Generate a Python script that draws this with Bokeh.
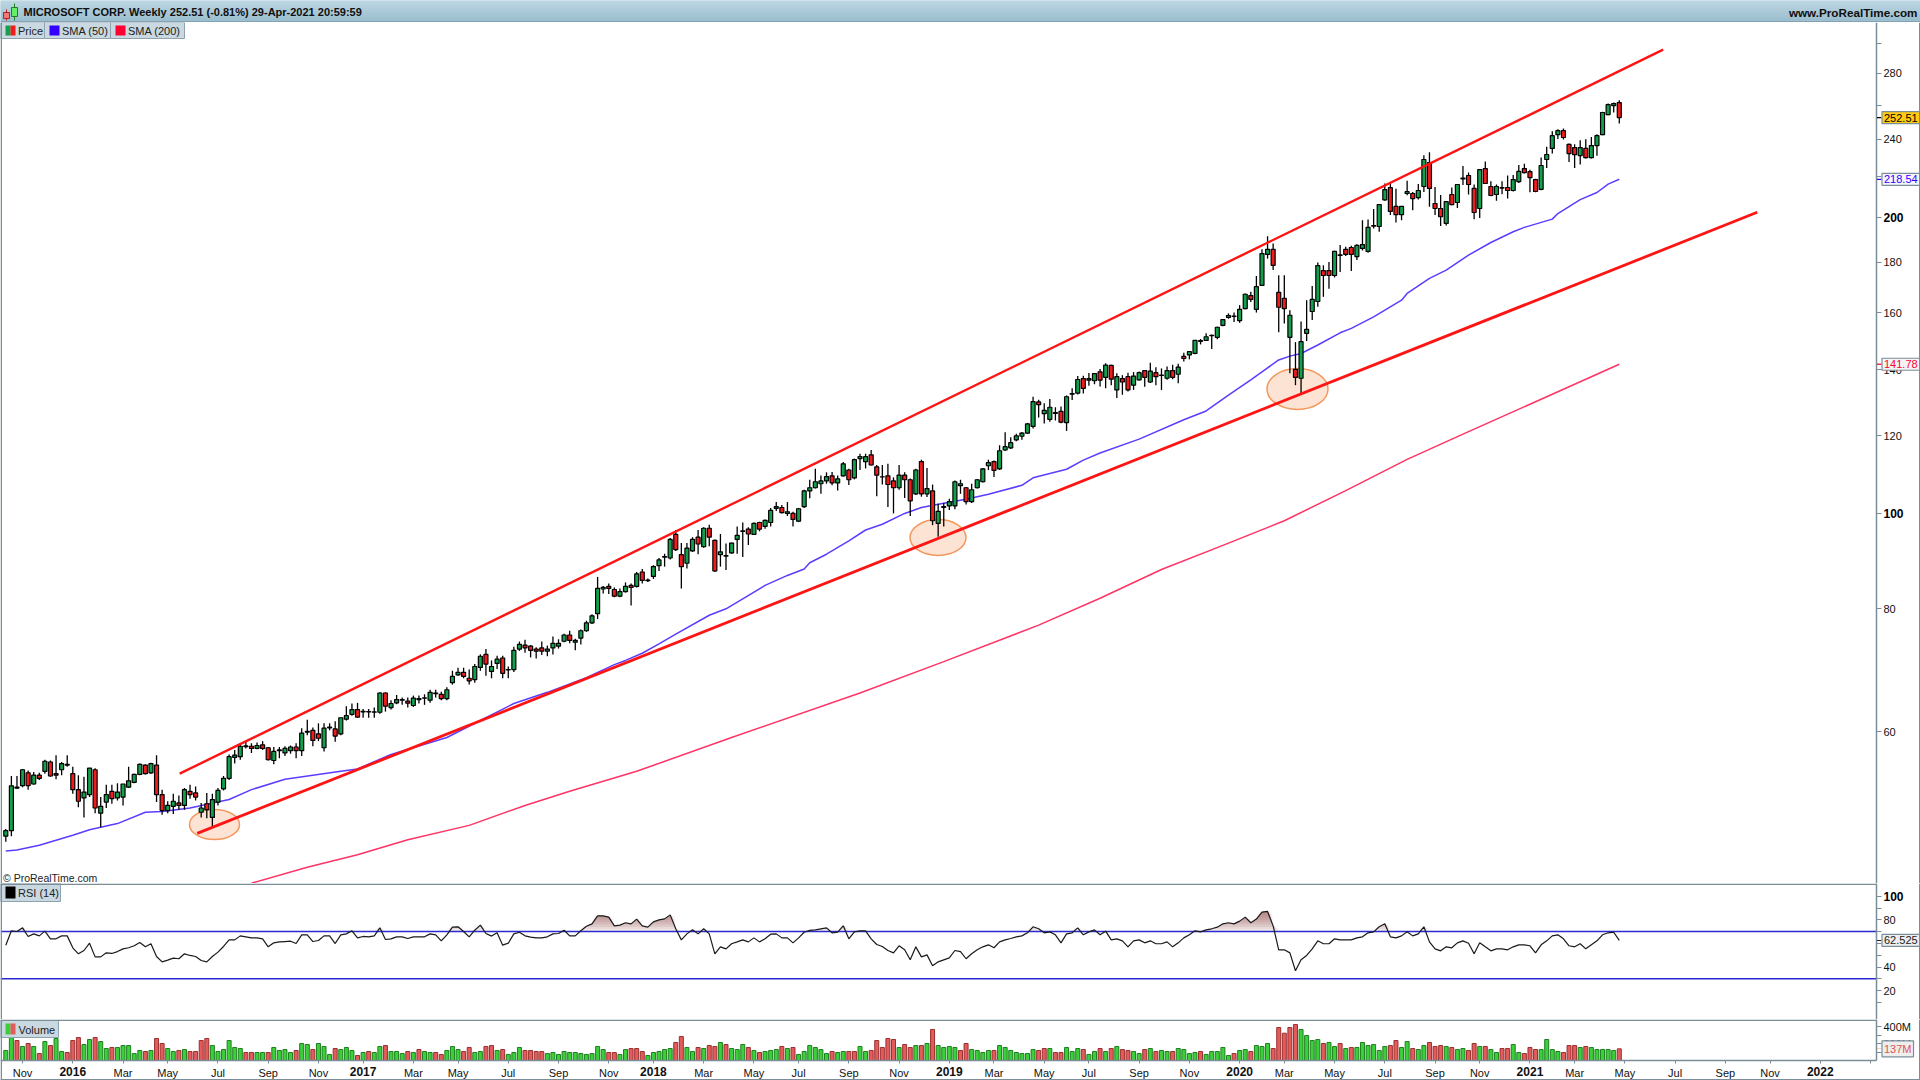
from datetime import datetime, timezone
import numpy as np
from bokeh.embed import file_html
from bokeh.resources import INLINE
from bokeh.layouts import column
from bokeh.plotting import figure
from bokeh.core.properties import value
from bokeh.models import Range1d, LinearScale, FixedTicker, Label, BoxAnnotation

# ---------- data ----------
first_week = "2015-10-12"
n_weeks = 290

opens = [47.0,47.6,52.6,52.9,54.5,53.1,54.2,54.7,55.9,54.4,
54.9,55.5,54.4,52.4,51.4,51.8,54.9,49.6,50.9,52.2,
51.4,51.5,52.7,53.3,54.3,55.5,54.5,55.5,51.8,49.9,
50.4,50.8,50.5,52.2,52.0,49.7,50.7,49.1,50.9,52.5,
53.8,56.5,56.6,57.95,58.0,57.7,58.2,57.8,56.1,57.4,
57.1,57.4,57.9,57.4,59.95,60.2,59.7,57.8,60.55,60.4,
59.7,61.8,62.5,63.2,62.85,62.85,62.8,62.8,65.7,63.5,
64.2,64.6,64.45,63.8,64.7,64.9,64.6,65.6,65.5,64.85,
67.3,68.55,68.95,68.0,67.8,69.75,71.9,69.1,70.4,71.3,
69.35,69.4,72.8,73.5,73.3,72.8,73.0,72.45,73.0,73.3,
74.15,75.25,74.0,74.7,76.0,77.4,79.1,83.8,84.3,83.7,
82.4,83.3,84.5,84.3,87.2,85.45,86.3,88.5,90.3,90.1,
95.2,90.8,89.0,91.6,94.6,92.5,96.6,93.9,90.8,90.5,
91.2,94.1,95.9,96.4,95.2,97.9,97.0,97.9,101.2,101.4,
100.0,100.0,98.2,101.6,105.4,106.2,107.2,107.9,109.2,107.4,
109.2,110.7,108.7,113.7,112.9,114.7,111.5,108.9,109.2,107.9,
106.2,109.4,108.2,104.7,112.9,104.7,105.4,97.7,101.4,101.8,
101.8,106.7,106.2,102.8,106.2,107.7,111.8,112.9,111.0,116.0,
116.6,118.8,119.8,120.7,122.6,129.8,126.3,124.6,126.4,127.0,
123.7,132.2,132.5,137.1,136.6,136.4,139.3,137.5,141.4,133.5,
137.1,137.7,135.0,136.7,139.7,136.0,139.0,138.1,137.2,139.7,
138.5,144.4,144.9,145.4,149.6,149.9,151.6,151.0,155.3,158.2,
158.6,157.0,161.5,166.5,161.2,170.5,183.3,185.5,167.7,165.4,
151.0,140.1,137.2,152.4,160.4,164.2,176.5,176.5,174.5,182.9,
185.5,186.3,182.4,185.9,184.6,195.9,195.7,208.3,214.3,205.1,
201.2,211.4,211.4,209.4,214.9,227.3,206.5,204.1,197.1,210.9,
207.0,218.7,220.5,213.9,204.1,224.1,214.9,210.9,214.1,214.4,
212.9,217.4,224.1,222.5,218.4,213.4,228.9,234.9,242.6,244.9,
237.1,235.4,231.0,234.9,229.9,236.5,242.6,254.3,259.7,261.5]

highs = [47.8,54.1,54.1,55.0,54.8,54.6,54.5,56.2,56.1,56.8,
55.9,56.8,55.3,54.2,54.0,55.1,55.1,51.5,53.0,53.0,
53.2,53.1,55.3,54.4,55.7,55.6,55.8,56.8,52.4,51.0,
51.9,51.7,52.6,53.0,52.8,50.8,52.0,51.9,52.6,54.1,
56.9,57.5,58.4,58.6,58.4,58.5,58.7,57.9,57.9,57.9,
58.0,58.1,58.4,60.5,61.7,60.6,61.2,61.2,61.2,61.5,
62.0,63.7,64.1,64.2,63.3,63.3,63.5,65.8,65.8,64.6,
65.4,65.0,65.0,65.3,65.3,65.5,66.2,66.2,65.9,66.6,
69.2,69.7,69.7,69.4,70.3,71.9,72.8,70.9,71.7,71.7,
69.9,73.2,74.1,74.4,73.5,73.1,74.1,73.4,75.0,74.5,
75.45,76.0,74.6,76.2,77.8,79.0,86.2,84.4,84.9,84.1,
83.9,85.1,84.9,87.2,87.8,85.9,88.6,90.1,91.0,94.4,
96.2,93.3,93.3,94.6,96.2,96.8,97.4,94.1,95.3,93.2,
93.4,97.0,97.9,96.8,97.9,98.1,98.6,101.3,102.7,102.0,
102.7,100.4,101.3,105.7,108.2,111.0,109.3,110.1,110.2,109.3,
112.8,111.0,113.7,115.0,115.0,116.0,112.0,112.0,112.3,108.8,
112.0,110.1,108.5,111.0,113.4,111.2,107.0,102.3,102.5,103.5,
108.0,108.2,106.4,107.2,108.4,111.2,113.4,113.2,117.3,120.9,
119.5,120.5,121.0,123.6,131.4,130.5,129.4,130.7,128.2,128.4,
131.8,134.0,137.9,138.0,138.9,138.9,140.2,142.1,141.6,138.8,
138.2,139.0,139.2,139.4,139.9,142.3,140.8,140.4,141.0,141.6,
141.9,145.6,146.0,150.0,150.4,152.4,152.0,154.8,157.4,159.7,
160.0,162.8,167.3,168.0,174.3,185.5,191.3,188.1,174.6,174.6,
160.9,149.3,156.7,164.7,170.3,179.9,178.7,180.1,184.9,187.4,
186.6,187.1,187.7,198.6,198.9,203.9,206.2,216.4,216.4,213.7,
205.1,217.8,212.1,216.1,231.2,232.8,214.7,210.7,207.4,214.4,
215.9,225.4,222.0,215.9,223.9,227.9,217.6,215.9,217.6,220.5,
220.7,226.0,226.7,223.5,218.8,230.0,235.8,244.6,245.7,246.1,
237.6,237.2,239.5,240.0,241.3,242.8,255.9,260.9,261.5,263.0]

lows = [46.4,47.0,52.5,52.7,52.4,53.0,53.6,54.4,54.0,53.7,
54.2,55.3,51.9,50.3,49.1,51.5,49.6,48.0,50.2,50.7,
51.1,50.5,52.6,53.2,54.2,54.3,54.4,50.9,49.4,49.6,
49.5,50.0,50.0,51.3,51.1,49.1,49.0,48.1,50.5,52.3,
53.6,55.7,56.2,57.7,57.1,57.6,57.5,56.1,55.6,56.4,
56.7,57.0,56.4,56.7,59.5,58.0,58.7,57.3,60.2,58.6,
59.5,61.6,62.3,62.0,62.0,62.0,62.0,62.6,62.9,63.2,
64.0,63.9,63.5,63.6,64.1,63.9,64.2,65.0,64.6,64.6,
67.0,68.4,68.0,67.0,67.3,69.2,68.4,68.0,69.5,68.0,
68.0,69.0,72.5,72.2,71.4,71.2,71.8,71.6,71.9,72.9,
74.0,73.8,72.6,73.6,75.8,77.2,78.1,82.9,82.8,82.2,
82.2,83.1,80.6,84.1,84.9,85.2,85.8,87.4,88.3,89.8,
91.6,83.9,87.9,91.4,90.9,92.3,92.6,87.2,88.3,87.6,
91.0,91.0,90.3,92.9,95.1,95.9,96.5,97.0,100.6,100.0,
99.4,97.0,98.0,101.3,103.6,106.0,104.7,107.2,106.8,105.5,
109.0,106.9,108.3,110.7,111.1,111.9,104.1,107.0,101.5,100.0,
105.7,103.7,99.4,104.4,104.0,103.9,97.3,94.7,97.0,100.8,
101.0,104.7,102.1,102.5,106.0,107.5,110.7,108.9,110.7,115.7,
116.3,118.4,118.8,120.5,122.0,125.2,123.4,123.9,124.3,123.5,
121.3,130.4,132.1,132.4,134.8,135.3,134.6,134.0,135.0,131.0,
132.0,133.0,133.5,136.5,134.5,135.7,135.0,133.5,136.7,136.9,
135.6,142.7,143.4,145.1,148.5,149.8,146.9,150.3,155.0,157.7,
156.5,156.2,161.2,164.0,160.0,170.3,181.5,176.8,152.8,156.0,
138.8,135.0,132.3,149.7,157.2,162.2,166.0,169.2,173.7,175.9,
182.6,176.3,180.9,185.0,184.0,194.8,193.3,207.8,201.0,197.5,
198.6,210.5,203.3,208.4,212.2,204.9,201.0,195.9,196.2,205.7,
204.3,215.6,210.9,199.0,199.6,216.1,210.0,207.8,211.0,208.9,
212.4,216.6,221.5,212.0,212.0,213.0,224.4,232.1,240.2,239.9,
227.6,224.4,226.3,229.4,229.4,230.9,242.2,253.9,255.5,249.0]

closes = [47.6,52.87,52.7,54.9,52.9,54.2,53.8,56.0,54.1,54.2,
55.7,55.6,52.4,51.0,52.1,55.1,50.2,50.4,51.8,51.3,
52.1,53.1,53.5,54.3,55.6,54.4,55.7,51.8,49.9,50.5,
51.0,50.5,52.4,51.8,51.5,50.2,50.0,51.2,52.3,53.8,
56.6,56.8,58.0,58.05,57.7,58.1,57.7,56.2,57.3,57.5,
57.7,57.9,57.4,59.8,60.05,58.8,59.1,60.5,60.65,59.4,
62.0,62.3,63.2,62.1,62.95,62.9,62.85,65.7,63.7,64.1,
64.7,64.7,64.15,64.9,64.85,64.95,65.8,65.7,64.85,66.2,
68.3,68.95,68.3,67.6,69.9,71.6,70.3,69.9,71.1,68.8,
69.4,72.6,73.6,73.0,72.6,72.45,72.45,72.8,73.8,73.8,
75.25,74.3,74.3,76.0,77.4,78.7,83.9,84.1,83.9,82.4,
83.3,84.3,84.1,86.8,85.5,85.55,88.3,89.7,90.4,94.1,
91.9,88.3,92.2,94.1,93.1,96.6,94.6,87.4,91.4,90.6,
93.3,95.0,96.0,95.3,97.7,96.4,98.4,100.7,101.6,100.2,
100.4,98.6,101.1,105.4,106.2,107.7,107.9,109.0,107.4,108.4,
112.3,108.2,113.4,114.2,114.2,112.0,109.4,108.95,107.0,106.2,
109.4,108.2,103.0,110.7,104.7,106.0,98.3,100.5,101.6,102.8,
107.7,107.2,102.8,105.7,108.2,111.0,112.6,110.6,115.8,116.9,
118.0,119.9,120.7,123.3,129.9,129.0,127.3,128.2,126.6,123.8,
131.4,132.4,136.8,134.0,137.1,138.7,136.6,141.5,136.9,137.7,
136.0,133.5,137.9,139.0,137.5,139.5,137.7,138.2,139.7,137.5,
140.8,143.7,146.0,149.9,149.8,151.2,151.7,154.6,157.4,158.9,
158.7,161.2,167.0,165.0,170.0,183.7,185.5,178.7,162.0,161.5,
159.0,137.5,149.5,153.8,165.0,178.6,174.5,174.5,184.6,183.1,
183.3,183.3,187.2,187.6,195.3,196.1,206.0,213.3,202.7,201.2,
205.1,212.3,208.9,212.9,228.9,213.9,204.1,200.2,207.4,206.0,
215.9,219.2,215.9,202.2,223.5,216.4,210.4,214.9,214.3,212.9,
218.4,222.6,222.0,219.4,212.4,225.7,231.6,242.0,244.9,241.0,
232.1,231.5,235.4,229.9,236.5,242.0,255.5,260.3,260.9,252.51]

rsi = [58.5,70.7,70.1,73.2,65.9,68.1,66.4,70.4,63.9,63.9,
66.4,66.4,56.3,51.2,54.0,60.2,48.6,48.6,52.0,51.5,
53.1,55.4,56.3,58.0,60.8,57.1,59.7,48.9,44.4,45.8,
47.5,47.0,51.2,49.8,48.9,45.5,44.4,48.9,52.6,57.4,
63.0,63.0,66.4,65.6,64.7,64.7,63.9,57.1,60.5,61.3,
61.6,61.9,59.9,67.3,67.3,61.6,62.5,66.4,66.4,59.9,
67.3,68.1,70.7,64.7,65.9,65.6,66.4,73.2,63.3,63.9,
65.6,65.6,64.2,65.6,65.6,65.6,68.1,67.3,62.2,67.3,
73.8,74.1,70.1,65.6,71.2,75.5,68.4,66.2,69.0,58.5,
60.2,68.1,69.5,66.4,65.3,64.7,64.7,65.6,68.1,68.4,
71.2,66.4,66.4,70.7,74.6,76.6,83.4,83.4,82.3,74.9,
75.5,77.5,76.6,80.6,74.9,73.8,78.3,80.0,80.8,84.2,
72.4,63.0,68.1,71.5,68.1,72.4,68.1,51.2,57.1,55.4,
59.7,61.3,63.0,61.3,64.7,61.3,63.9,67.8,68.1,64.7,
64.7,60.5,64.7,69.5,71.0,71.5,72.4,73.2,69.0,69.5,
74.9,63.9,69.8,70.7,70.7,63.9,59.1,57.4,54.0,52.0,
58.0,54.6,46.1,57.1,48.6,50.3,41.0,44.4,46.1,47.8,
54.0,53.1,47.0,51.2,54.6,57.1,58.8,56.3,61.3,63.0,
64.2,65.6,66.4,69.0,74.1,72.4,69.0,69.8,67.3,60.5,
68.1,69.0,73.2,67.3,69.8,71.5,67.3,70.4,63.0,63.9,
62.2,57.1,62.2,63.0,60.5,62.2,59.7,59.7,61.3,57.1,
60.5,64.7,67.3,70.7,69.8,71.5,72.4,73.8,76.6,77.5,
76.6,78.9,82.3,77.5,80.6,86.5,87.1,74.9,54.6,54.6,
52.0,36.8,46.1,49.8,55.4,62.2,59.7,59.7,63.9,63.0,
63.0,63.0,64.7,65.6,69.0,69.8,74.1,76.6,65.6,64.7,
66.4,69.8,66.4,68.1,74.1,61.3,55.4,53.7,57.1,56.3,
60.5,62.2,60.2,51.2,60.5,57.1,53.7,55.4,55.4,54.6,
57.1,58.8,58.8,58.0,52.0,58.8,62.2,66.4,67.3,63.9,
58.0,57.1,59.7,55.4,58.8,62.2,67.3,69.0,69.5,62.525]

volume_m = [118,278,235,165,200,165,82,223,176,259,
106,94,235,270,188,247,270,223,141,153,
153,176,176,82,118,106,118,259,200,141,
106,118,129,106,106,235,259,176,106,129,
235,153,141,94,94,94,94,94,153,118,
129,94,118,200,188,129,200,165,71,141,
129,153,118,59,94,106,94,165,176,106,
106,82,106,94,129,106,94,94,71,118,
165,129,106,153,94,106,165,176,118,129,
71,94,153,118,118,106,106,82,94,71,
106,94,94,82,71,82,165,129,94,94,
71,129,141,141,106,59,94,106,129,141,
212,282,153,106,153,141,176,165,212,188,
141,129,188,153,118,94,106,118,129,165,
141,153,71,106,176,153,129,82,106,94,
106,106,106,165,106,118,235,153,259,247,
153,188,153,176,176,200,365,176,153,165,
153,118,200,129,118,94,118,118,176,153,
118,94,82,82,129,118,141,141,94,94,
153,106,141,129,71,106,141,106,141,165,
129,118,106,82,129,141,106,118,106,106,
141,129,82,94,106,71,106,106,153,59,
82,118,129,106,176,165,200,141,388,321,
388,423,365,294,235,247,200,212,165,200,
141,153,153,212,176,188,118,165,176,235,
153,223,141,129,176,212,165,176,165,153,
129,141,118,200,165,165,129,94,141,141,
188,94,82,153,129,129,247,129,106,94,
176,176,153,165,153,129,129,129,118,137]

volume_dir = ["ggrgrgrgrg", "grrrggrggr", "gggggrgrrg", "grgrrrrggg", "gggrrggrgg",
              "ggrggrgggr", "gggrgrggrg", "ggrgrggrrg", "ggrrggrrgr", "gggrrrrggg",
              "ggggggggrr", "ggrrrggggg", "rrggrgrrgr", "gggrgrgggr", "grggggggrg",
              "grrggrrrrr", "grrgrgrggg", "grrggggrgg", "gggggrrgrr", "gggrggrgrg",
              "rrggrgrggr", "ggggrggggg", "rggrgggrrr", "rrggggrggr", "grggggggrr",
              "ggrggrrrgr", "ggrrgrggrr", "ggrrrggggr", "rrgrgggggr"]

sma50_weeks = [1,3,7,13,16,21,26,29,34,41,45,51,56,61,64,70,80,86,92,98,105,110,
               112,115,118,121,127,130,133,137,141,144,145,148,152,155,158,162,165,169,173,177,183,
               185,191,194,197,204,212,216,220,224,226,229,231,233,236,240,242,246,251,252,256,259,
               263,267,271,273,278,279,283,286,288,290]
sma50_values = [45.4,45.5,46.0,47.1,47.7,48.4,49.7,49.8,50.2,51.2,52.4,53.7,54.2,54.7,55.0,56.9,59.2,61.6,64.1,65.8,68.1,70.2,
                70.9,72.1,73.7,75.4,78.8,80.0,81.9,84.5,86.5,87.8,89.1,90.9,93.8,96.2,97.5,100.0,101.4,102.4,103.4,104.6,106.8,
                108.7,110.9,113.3,115.2,119.0,124.5,127.1,131.9,136.7,139.3,143.2,144.5,145.4,148.3,152.6,154.2,158.4,164.7,167.3,173.3,176.7,
                183.0,188.5,193.3,195.3,199.1,201.7,208.4,211.9,216.1,218.54]

sma200_weeks = [45,55,64,73,84,94,102,114,131,154,169,186,197,208,219,230,241,252,263,274,283,290]
sma200_values = [42.1,43.7,45.0,46.6,48.2,50.5,52.2,54.7,59.2,65.7,70.7,77.0,82.0,87.7,92.8,98.3,105.5,113.5,121.1,129.1,136.1,141.78]

channel_top_dates = ["2016-05-17", "2021-06-20"]
channel_top_prices = [54.4, 296.0]
channel_low_dates = ["2016-06-08", "2021-10-16"]
channel_low_prices = [47.3, 202.3]

date_ticks = ["2015-11-02","2016-01-04","2016-03-07","2016-05-02","2016-07-04","2016-09-05","2016-11-07",
              "2017-01-02","2017-03-06","2017-05-01","2017-07-03","2017-09-04","2017-11-06",
              "2018-01-01","2018-03-05","2018-05-07","2018-07-02","2018-09-03","2018-11-05",
              "2019-01-07","2019-03-04","2019-05-06","2019-07-01","2019-09-02","2019-11-04",
              "2020-01-06","2020-03-02","2020-05-04","2020-07-06","2020-09-07","2020-11-02",
              "2021-01-04","2021-03-01","2021-05-03","2021-07-05","2021-09-06","2021-11-01",
              "2022-01-03","2022-03-07"]
date_labels = ["Nov","2016","Mar","May","Jul","Sep","Nov",
               "2017","Mar","May","Jul","Sep","Nov",
               "2018","Mar","May","Jul","Sep","Nov",
               "2019","Mar","May","Jul","Sep","Nov",
               "2020","Mar","May","Jul","Sep","Nov",
               "2021","Mar","May","Jul","Sep","Nov",
               "2022",""]

price_ticks = [60,80,100,120,140,160,180,200,220,240,260,280,300]
price_tick_labels = ["60","80","","120","140","160","180","","","240","","280",""]
price_bold_ticks = [100,200]
rsi_ticks = [10,20,30,40,50,60,70,80,90,100]
rsi_tick_labels = ["","20","","40","","","","80","",""]
vol_ticks = [100,200,300,400]
vol_tick_labels = ["","200M","","400M"]

title_text = "MICROSOFT CORP. Weekly 252.51 (-0.81%) 29-Apr-2021 20:59:59"
site_text = "www.ProRealTime.com"
copyright_text = "\u00a9 ProRealTime.com"

# ---------- colours and helpers ----------
FONT = "Liberation Sans"
BORDER = "#7a8d99"
CHIP = "#c9d8e1"
GREEN = "#12a04c"
RED = "#f01c1c"
DAY_MS = 86400000.0
WEEK_MS = 7 * DAY_MS
vol_dirs = "".join(volume_dir)


def ms(text):
    return datetime.strptime(text, "%Y-%m-%d").replace(tzinfo=timezone.utc).timestamp() * 1000.0


t0 = ms(first_week)
week_ms = np.array([t0 + i * WEEK_MS for i in range(n_weeks)])
x_start = t0 - (5.3 / 5.583) * WEEK_MS
x_end = t0 + ((1920 - 5.3) / 5.583) * WEEK_MS
x_axis_at = t0 + ((1876 - 5.3) / 5.583) * WEEK_MS
up_bar = [c >= o for o, c in zip(opens, closes)]


def base_fig(height, y_range, y_type="linear", below=False, px_bottom=0, px_top=0):
    p = figure(width=1920, height=height, x_range=Range1d(x_start, x_end), y_range=y_range,
               x_axis_type="datetime", y_axis_type=y_type, y_axis_location="right",
               x_axis_location="below" if below else None,
               toolbar_location=None, output_backend="svg",
               min_border=0, background_fill_color="white",
               border_fill_color="white", outline_line_color=None)
    p.grid.visible = False
    p.extra_x_ranges = {"px": Range1d(0, 1920)}
    p.extra_x_scales = {"px": LinearScale()}
    p.extra_y_ranges = {"px": Range1d(px_bottom, px_top)}
    p.extra_y_scales = {"px": LinearScale()}
    ax = p.yaxis[0]
    ax.fixed_location = x_axis_at
    ax.axis_line_color = BORDER
    ax.axis_line_width = 1.5
    ax.major_tick_line_color = BORDER
    ax.major_tick_out = 5
    ax.major_tick_in = 0
    ax.minor_tick_line_color = None
    ax.major_label_standoff = 2
    ax.major_label_text_font = FONT
    ax.major_label_text_font_size = "11px"
    ax.major_label_text_color = "#111111"
    return p


def set_ticks(p, ticks, labels):
    ax = p.yaxis[0]
    ax.ticker = FixedTicker(ticks=ticks)
    ax.major_label_overrides = {t: s for t, s in zip(ticks, labels)}


def bold_tick(p, y, text):
    p.add_layout(Label(x=1883, y=y, x_range_name="px", text=text, text_font=FONT, text_font_size="12px",
                       text_font_style="bold", text_baseline="middle", text_color="#000000"))


def value_box(p, y, text, text_color, fill, half_tick):
    p.add_layout(BoxAnnotation(left=1876.5, right=1881, top=y * (1 + half_tick), bottom=y * (1 - half_tick),
                               x_range_name="px", fill_color=text_color, fill_alpha=1, line_color=None))
    p.add_layout(Label(x=1881.5, y=y, x_range_name="px", text=text, text_font=FONT, text_font_size="11px",
                       text_baseline="middle", text_color=text_color, background_fill_color=fill,
                       background_fill_alpha=1.0, border_line_color=BORDER, border_line_width=1.2,
                       padding=(2, 2)))


def chip(p, left, right, top, bottom, label, label_x, mid_y, swatches):
    kw = dict(x_range_name="px", y_range_name="px")
    p.quad(left=[left], right=[right], top=[top], bottom=[bottom], fill_color=CHIP,
           line_color="#8fa3af", line_width=1, **kw)
    for (a, b, col) in swatches:
        p.quad(left=[a], right=[b], top=[top + 3], bottom=[bottom - 3], fill_color=col, line_color=None, **kw)
    p.text(x=[label_x], y=[mid_y], text=[label], text_font=value(FONT), text_font_size="11px",
           text_baseline="middle", text_color="#222222", **kw)


def edge_box(p, left, right, top, bottom):
    p.add_layout(BoxAnnotation(left=left, right=right, top=top, bottom=bottom, x_range_name="px",
                               y_range_name="px", fill_color=BORDER, fill_alpha=1, line_color=None))


def pane_edges(p, y_top, y_bottom, top_line):
    edge_box(p, 0, 1.5, y_top, y_bottom)
    edge_box(p, 1918.5, 1920, y_top, y_bottom)
    if top_line:
        edge_box(p, 0, 1876, y_top, y_top + 1.5)


# ---------- header ----------
head = figure(width=1920, height=22, x_range=Range1d(0, 1920), y_range=Range1d(22, 0),
              x_axis_location=None, y_axis_location=None, toolbar_location=None, output_backend="svg",
              min_border=0, outline_line_color=None, background_fill_color="#a9c9d8", border_fill_color="#a9c9d8")
head.grid.visible = False
strip_top = [0, 2, 4, 6, 8, 10, 12, 14, 16, 18, 20]
strip_col = ["#bfd8e3", "#bbd5e1", "#b7d2df", "#b3cfdc", "#afccda", "#abc9d7", "#a7c6d5", "#a3c4d3",
             "#9fc1d0", "#9bbece", "#97bbcc"]
head.quad(left=0, right=1920, top=strip_top, bottom=[t + 2 for t in strip_top], fill_color=strip_col, line_color=None)
head.quad(left=[0], right=[1920], top=[21], bottom=[22], fill_color=["#6f8a9a"], line_color=None)
head.segment(x0=[6, 14], y0=[9, 3], x1=[6, 14], y1=[20, 20], line_color=["#b02020", "#208020"], line_width=1)
head.quad(left=[3, 11], right=[9, 17], top=[12, 7], bottom=[18, 16], fill_color=["#f07a7a", "#66ee66"],
          line_color=["#b02020", "#208020"], line_width=1)
head.text(x=[23], y=[11.5], text=[title_text], text_font=value(FONT), text_font_style="bold", text_font_size="11px",
          text_baseline="middle", text_color="#101010")
head.text(x=[1917], y=[11.5], text=[site_text], text_font=value(FONT), text_font_style="bold", text_font_size="11.7px",
          text_align="right", text_baseline="middle", text_color="#101010")

# ---------- price pane ----------
price = base_fig(861, Range1d(42.07, 315.4), y_type="log", px_bottom=883, px_top=22)
set_ticks(price, price_ticks, price_tick_labels)
for t in price_bold_ticks:
    bold_tick(price, t, str(t))

kw_px = dict(x_range_name="px", y_range_name="px")
price.ellipse(x=[214, 937.5, 1297], y=[824, 537, 388.5], width=[50, 56, 61], height=[30, 36, 41],
              fill_color="#fbd9c4", fill_alpha=0.75, line_color="#f4975c", line_width=1.5, **kw_px)

price.line([t0 + (k - 1) * WEEK_MS for k in sma200_weeks], sma200_values, line_color="#ff3366", line_width=1.5)
price.line([t0 + (k - 1) * WEEK_MS for k in sma50_weeks], sma50_values, line_color="#5a3dff", line_width=1.5)

price.segment(week_ms, lows, week_ms, highs, line_color="#000000", line_width=1.3)
price.vbar(x=week_ms, width=(4.0 / 5.583) * WEEK_MS, top=[max(o, c) for o, c in zip(opens, closes)],
           bottom=[min(o, c) for o, c in zip(opens, closes)],
           fill_color=[GREEN if u else RED for u in up_bar], line_color="#000000", line_width=1.2)

price.line([ms(d) for d in channel_top_dates], channel_top_prices, line_color="#ff1414", line_width=2.4)
price.line([ms(d) for d in channel_low_dates], channel_low_prices, line_color="#ff1414", line_width=2.8)

chip(price, 0, 44, 22, 38, "Price", 17.5, 30, [(5, 10, "#12a04c"), (10, 15, "#f01c1c")])
chip(price, 44, 110, 22, 38, "SMA (50)", 61.5, 30, [(49, 59, "#3300ff")])
chip(price, 110, 184, 22, 38, "SMA (200)", 127.5, 30, [(115, 125, "#ff0033")])
price.text(x=[2.5], y=[877], text=[copyright_text], text_font=value(FONT), text_font_size="10.5px",
           text_baseline="middle", text_color="#222222", **kw_px)

value_box(price, 252.51, "252.51", "#000000", "#ffcc11", 0.0015)
value_box(price, 218.54, "218.54", "#3300ff", "#f5f5fb", 0.0015)
value_box(price, 141.78, "141.78", "#ff0033", "#f4f4f4", 0.0015)
pane_edges(price, 22, 883, False)

# ---------- RSI pane ----------
rsi_fig = base_fig(136, Range1d(-4.5, 110.8), px_bottom=1019, px_top=883)
set_ticks(rsi_fig, rsi_ticks, rsi_tick_labels)
bold_tick(rsi_fig, 100, "100")

rsi_arr = np.array(rsi)
for level in range(70, 90, 2):
    rsi_fig.varea(x=week_ms, y1=np.full(n_weeks, float(level)), y2=np.clip(rsi_arr, level, None),
                  fill_color="#8a3f3f", fill_alpha=0.105)
rsi_fig.segment(x0=[x_start, x_start], y0=[70, 30], x1=[x_axis_at, x_axis_at], y1=[70, 30],
                line_color="#2a2ad0", line_width=1.5)
rsi_fig.line(week_ms, rsi, line_color="#1a1a1a", line_width=1.2)
chip(rsi_fig, 0, 60, 883, 901, "RSI (14)", 17.5, 892, [(5, 15, "#000000")])
value_box(rsi_fig, 62.525, "62.525", "#222222", "#eeeeee", 0.006)
pane_edges(rsi_fig, 883, 1019, True)

# ---------- volume pane ----------
vol = base_fig(61, Range1d(-235.3, 482.4), below=True, px_bottom=1080, px_top=1019)
set_ticks(vol, vol_ticks, vol_tick_labels)
vol.yaxis[0].bounds = (0, 482.4)
vol.vbar(x=week_ms, width=(4.0 / 5.583) * WEEK_MS, top=volume_m, bottom=0,
         fill_color=["#3ccf3c" if d == "g" else "#e25c5c" for d in vol_dirs],
         line_color=["#1f7f1f" if d == "g" else "#9a2f2f" for d in vol_dirs], line_width=1)
chip(vol, 0, 58, 1020, 1037, "Volume", 18, 1029, [(5, 10, "#3ccf3c"), (10, 15, "#e25c5c")])
value_box(vol, 137, "137M", "#e05555", "#eeeeee", 0.012)

xa = vol.xaxis[0]
xa.fixed_location = 0
xa.bounds = (x_start, x_axis_at)
xa.ticker = FixedTicker(ticks=[ms(d) for d in date_ticks])
xa.major_label_overrides = {ms(d): ("" if s.isdigit() else s) for d, s in zip(date_ticks, date_labels)}
xa.major_label_text_font = FONT
xa.major_label_text_font_size = "11px"
xa.major_label_text_color = "#111111"
xa.major_label_standoff = 3
xa.axis_line_color = BORDER
xa.axis_line_width = 1.5
xa.major_tick_line_color = BORDER
xa.major_tick_out = 3
xa.major_tick_in = 0
xa.minor_tick_line_color = None

for d, s in zip(date_ticks, date_labels):
    if s.isdigit():
        vol.add_layout(Label(x=ms(d), y=1071, y_range_name="px", text=s, text_font=FONT,
                             text_font_size="12px", text_font_style="bold",
                             text_align="center", text_baseline="middle", text_color="#111111"))
pane_edges(vol, 1019, 1080, True)
edge_box(vol, 0, 1920, 1078.5, 1080)

page = column(head, price, rsi_fig, vol, spacing=0)
open("out.html", "w").write(file_html(page, INLINE))
